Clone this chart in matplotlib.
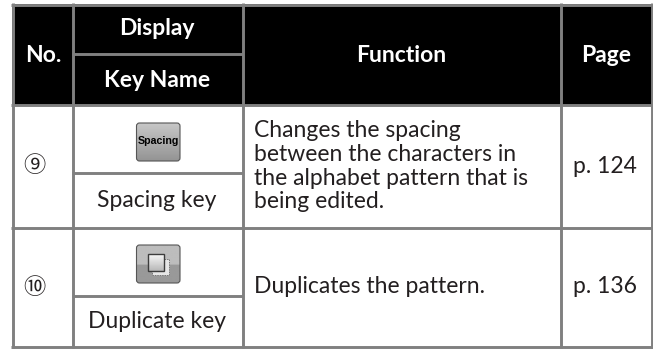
import matplotlib as mpl
mpl.use("Agg")
import matplotlib.pyplot as plt
import numpy as np
from matplotlib.patches import FancyBboxPatch, Rectangle

mpl.rcParams["font.family"] = ["Lato", "DejaVu Sans"]

# table text
HEADERS = ["No.", "Display", "Key Name", "Function", "Page"]
NUMBERS = ["⑨", "⑩"]
KEY_NAMES = ["Spacing key", "Duplicate key"]
FUNCTION_ROW1 = [
    "Changes the spacing",
    "between the characters in",
    "the alphabet pattern that is",
    "being edited.",
]
FUNCTION_ROW2 = ["Duplicates the pattern."]
PAGES = ["p. 124", "p. 136"]
ICON_LABEL = "Spacing"

C_GRID = "#808080"
C_TEXT = "#231f20"
FS = 16.5
LW = 2.1

fig = plt.figure(figsize=(6.53, 3.49), dpi=100)
ax = fig.add_axes([0, 0, 1, 1])
ax.set_xlim(0, 653)
ax.set_ylim(349, 0)
ax.axis("off")


def rect(x0, y0, x1, y1, color, z=1):
    ax.add_patch(Rectangle((x0, y0), x1 - x0, y1 - y0, fc=color, ec="none", zorder=z))


def icon_shell(x0, y0, x1, y1, top, bottom, split=None):
    """Rounded button with a vertical gradient (or a two tone split)."""
    patch = FancyBboxPatch(
        (x0 + 2, y0 + 2), x1 - x0 - 4, y1 - y0 - 4,
        boxstyle="round,pad=2,rounding_size=3",
        fc="none", ec="#555555", lw=0.8, zorder=4,
    )
    ax.add_patch(patch)
    grad = np.linspace(0, 1, 64)[:, None]
    if split is None:
        vals = top + (bottom - top) * grad
    else:
        vals = np.where(grad < split, top, bottom)
    im = ax.imshow(
        vals, extent=(x0, x1, y1, y0), cmap="gray", vmin=0, vmax=1,
        aspect="auto", zorder=3, interpolation="bilinear",
    )
    im.set_clip_path(patch)


# header block, then grid lines
rect(12, 4, 652, 105, "black")
for x in [12.5, 72.5, 242.5, 560.5, 651.5]:
    ax.plot([x, x], [3, 348], color=C_GRID, lw=LW, solid_capstyle="butt", zorder=2)
for y in [4.5, 105.3, 228, 346.5]:
    ax.plot([11, 653], [y, y], color=C_GRID, lw=LW, solid_capstyle="butt", zorder=2)
for y in [53.5, 173, 295.5]:
    ax.plot([72, 243], [y, y], color=C_GRID, lw=LW, solid_capstyle="butt", zorder=2)

# header text
for label, x, y in zip(HEADERS, [43, 157, 157, 401, 606], [62, 35, 87, 62, 62]):
    ax.text(x, y, label, color="white", fontsize=FS, fontweight="bold",
            ha="center", va="baseline", zorder=5)

# body text
for label, y in zip(NUMBERS, [166, 287]):
    ax.text(34, y, label, color=C_TEXT, fontsize=16,
            family=["Noto Sans CJK JP", "DejaVu Sans"],
            ha="center", va="center", zorder=5)
for label, y in zip(KEY_NAMES, [207, 328]):
    ax.text(157, y, label, color=C_TEXT, fontsize=FS, ha="center", va="baseline", zorder=5)
for label, y in zip(FUNCTION_ROW1, [137, 161, 185, 208]):
    ax.text(254, y, label, color=C_TEXT, fontsize=FS, ha="left", va="baseline", zorder=5)
for label in FUNCTION_ROW2:
    ax.text(254, 293, label, color=C_TEXT, fontsize=FS, ha="left", va="baseline", zorder=5)
for label, y in zip(PAGES, [173, 293]):
    ax.text(605, y, label, color=C_TEXT, fontsize=FS, ha="center", va="baseline", zorder=5)

# spacing icon
icon_shell(136.5, 123, 180, 161, 0.78, 0.58)
ax.text(158, 141.5, ICON_LABEL, color="black", fontsize=7.7, fontweight="bold",
        family="Liberation Sans", ha="center", va="center", zorder=5)

# duplicate icon
icon_shell(136.5, 245, 180, 283, 0.74, 0.60, split=0.52)
ax.add_patch(Rectangle((152, 259), 17, 16, fc="#e6e6e6", ec="#777777", lw=0.7,
                       ls=(0, (1.5, 1)), zorder=5))
front = Rectangle((147.5, 254), 16.5, 17, fc="none", ec="#3c3c3c", lw=1.0, zorder=7)
ax.add_patch(front)
im = ax.imshow(np.linspace(0.97, 0.72, 32)[:, None], extent=(147.5, 164, 271, 254),
               cmap="gray", vmin=0, vmax=1, aspect="auto", zorder=6)
ax.set_xlim(0, 653)
ax.set_ylim(349, 0)

fig.savefig("out.png", dpi=100)
plt.close(fig)
